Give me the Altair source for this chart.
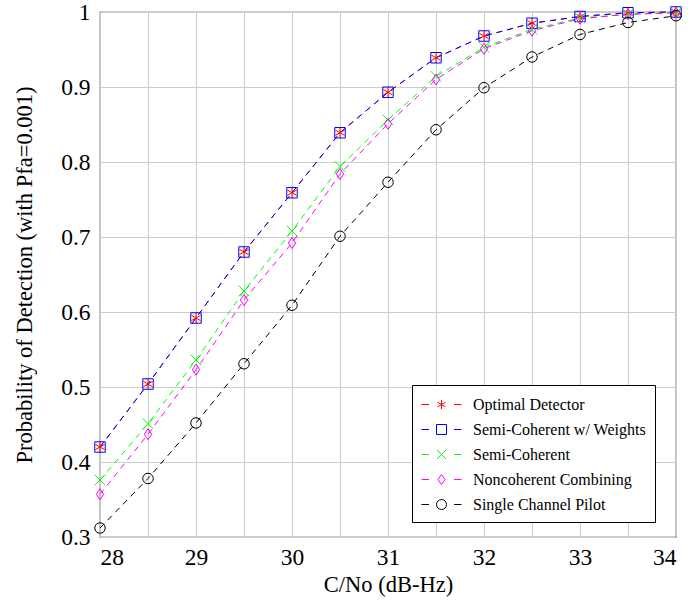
import altair as alt
import pandas as pd

# ---- data ----
cn0 = [28.0, 28.5, 29.0, 29.5, 30.0, 30.5, 31.0, 31.5, 32.0, 32.5, 33.0, 33.5, 34.0]

series_names = [
    "Optimal Detector",
    "Semi-Coherent w/ Weights",
    "Semi-Coherent",
    "Noncoherent Combining",
    "Single Channel Pilot",
]
series_colors = ["#ff0000", "#0000ff", "#00ff00", "#ff00ff", "#000000"]

optimal = [0.420, 0.504, 0.592, 0.680, 0.759, 0.839, 0.893, 0.939, 0.968, 0.985, 0.994, 0.999, 1.000]
semi_w = [0.420, 0.504, 0.592, 0.680, 0.759, 0.839, 0.893, 0.939, 0.968, 0.985, 0.994, 0.999, 1.000]
semi = [0.376, 0.451, 0.536, 0.628, 0.708, 0.794, 0.856, 0.914, 0.953, 0.977, 0.992, 0.997, 0.999]
noncoh = [0.357, 0.437, 0.523, 0.616, 0.692, 0.784, 0.851, 0.910, 0.951, 0.975, 0.991, 0.997, 0.999]
single = [0.312, 0.378, 0.452, 0.531, 0.609, 0.701, 0.773, 0.843, 0.899, 0.940, 0.970, 0.986, 0.995]

x_ticks = [28, 28.5, 29, 29.5, 30, 30.5, 31, 31.5, 32, 32.5, 33, 33.5, 34]
y_ticks = [0.3, 0.35, 0.4, 0.45, 0.5, 0.55, 0.6, 0.65, 0.7, 0.75, 0.8, 0.85, 0.9, 0.95, 1.0]

# marker shapes (plot) and legend symbols (dash - marker - dash)
marker_paths = [
    "M0,-1L0,1M-0.87,-0.5L0.87,0.5M-0.87,0.5L0.87,-0.5",
    "M-1,-1L1,-1L1,1L-1,1Z",
    "M-1,-1L1,1M-1,1L1,-1",
    "M0,-1.05L0.7,0L0,1.05L-0.7,0Z",
    "circle",
]
dash = "M-2,0L-1.25,0M1.25,0L2,0"
legend_paths = [
    dash + "M0,-0.45L0,0.45M-0.39,-0.22L0.39,0.22M-0.39,0.22L0.39,-0.22",
    dash + "M-0.5,-0.5L0.5,-0.5L0.5,0.5L-0.5,0.5Z",
    dash + "M-0.45,-0.45L0.45,0.45M-0.45,0.45L0.45,-0.45",
    dash + "M0,-0.5L0.35,0L0,0.5L-0.35,0Z",
    dash + "M0.5,0A0.5,0.5,0,1,1,-0.5,0A0.5,0.5,0,1,1,0.5,0Z",
]

rows = []
values = [optimal, semi_w, semi, noncoh, single]
for i in range(len(series_names)):
    for xv, yv in zip(cn0, values[i]):
        rows.append({"cn0": xv, "pd": yv, "series": series_names[i], "k": i})
df = pd.DataFrame(rows)

FONT = "Liberation Serif"

x_enc = alt.X(
    "cn0:Q",
    scale=alt.Scale(domain=[28, 34], nice=False, zero=False),
    axis=alt.Axis(
        values=x_ticks,
        labelExpr="datum.value % 1 == 0 ? format(datum.value, 'd') : ''",
        title="C/No (dB-Hz)",
        titlePadding=5,
        labelPadding=8,
    ),
)
y_enc = alt.Y(
    "pd:Q",
    scale=alt.Scale(domain=[0.3, 1.0], nice=False, zero=False),
    axis=alt.Axis(
        values=y_ticks,
        labelExpr="round(datum.value * 20) % 2 == 0 ? format(datum.value, '~g') : ''",
        title="Probability of Detection (with Pfa=0.001)",
        titlePadding=24,
        labelPadding=10,
    ),
)

color_scale = alt.Scale(domain=series_names, range=series_colors)

lines = alt.Chart(df).mark_line(strokeWidth=1, strokeDash=[6, 5]).encode(
    x=x_enc,
    y=y_enc,
    color=alt.Color("series:N", scale=color_scale, legend=None),
    detail="k:N",
    order="cn0:Q",
)

points = alt.Chart(df).mark_point(filled=False, size=110, strokeWidth=1, opacity=1).encode(
    x="cn0:Q",
    y="pd:Q",
    color=alt.Color("series:N", scale=color_scale, legend=None),
    shape=alt.Shape("series:N", scale=alt.Scale(domain=series_names, range=marker_paths), legend=None),
)

legend_layer = alt.Chart(df).mark_point(filled=False, opacity=0, strokeWidth=1).encode(
    x="cn0:Q",
    y="pd:Q",
    color=alt.Color(
        "series:N",
        scale=color_scale,
        legend=alt.Legend(title=None),
    ),
    shape=alt.Shape(
        "series:N",
        scale=alt.Scale(domain=series_names, range=legend_paths),
        legend=alt.Legend(title=None),
    ),
)

chart = (
    alt.layer(lines, points, legend_layer)
    .resolve_scale(color="independent", shape="independent")
    .properties(
        width=576,
        height=525,
        autosize=alt.AutoSizeParams(type="none"),
        padding={"left": 100, "top": 12, "right": 15, "bottom": 76},
    )
    .configure(font=FONT)
    .configure_view(stroke="#333333", strokeWidth=1.2)
    .configure_axis(
        labelFont=FONT,
        titleFont=FONT,
        labelFontSize=23.5,
        titleFontSize=22.5,
        titleFontWeight="normal",
        labelColor="black",
        titleColor="black",
        grid=True,
        gridColor="#cccccc",
        gridWidth=1,
        domain=False,
        ticks=False,
    )
    .configure_legend(
        orient="none",
        legendX=312,
        legendY=373,
        labelFont=FONT,
        labelFontSize=16,
        labelLimit=400,
        labelColor="black",
        symbolSize=400,
        symbolOffset=10,
        symbolOpacity=1,
        symbolStrokeWidth=1,
        labelOffset=21,
        rowPadding=6,
        padding=9,
        strokeColor="black",
        fillColor="white",
        cornerRadius=0,
    )
)

chart.save("out.html", embed_options={"renderer": "svg", "actions": False})
